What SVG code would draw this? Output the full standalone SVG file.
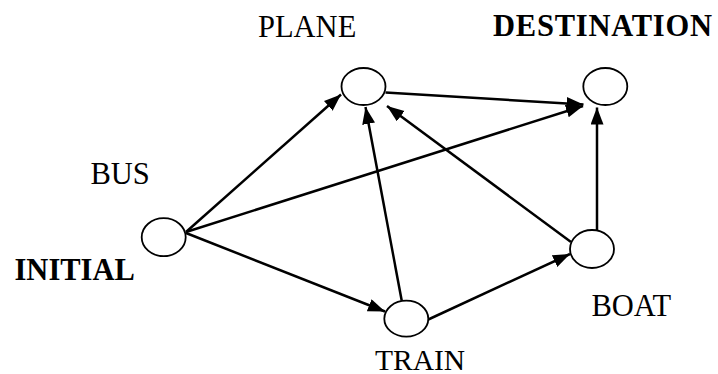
<svg xmlns="http://www.w3.org/2000/svg" width="718" height="374" viewBox="0 0 718 374">
<style>
.node{fill:#fff;stroke:#000;stroke-width:1.8}
.lbl{font-family:"Liberation Serif","Times New Roman",serif;font-size:30.5px;fill:#000}
.b{font-weight:bold}
.edge{stroke:#000;stroke-width:2.5;fill:none;marker-end:url(#ah)}
</style>
<defs>
<marker id="ah" markerUnits="userSpaceOnUse" markerWidth="18" markerHeight="14" refX="17" refY="6.5" orient="auto">
<path d="M0,0 L17,6.5 L0,13 Z" fill="#000"/>
</marker>
</defs>
<rect width="718" height="374" fill="#fff"/>
<g id="connectors">
<line class="edge" x1="186" y1="232" x2="341" y2="94.5"/>
<line class="edge" x1="186" y1="232" x2="583" y2="106"/>
<line class="edge" x1="186" y1="233" x2="385" y2="311.5"/>
<line class="edge" x1="401.7" y1="300.5" x2="365.5" y2="107"/>
<line class="edge" x1="428.3" y1="319.5" x2="570" y2="254"/>
<line class="edge" x1="571" y1="242" x2="387" y2="106"/>
<line class="edge" x1="597" y1="230" x2="597" y2="107.5"/>
<line class="edge" x1="385.5" y1="92.5" x2="583.5" y2="104.5"/>
</g>
<g id="initial">
<ellipse class="node" cx="163.7" cy="237.2" rx="22" ry="19"/>
<text class="lbl b" x="14.5" y="280">INITIAL</text>
</g>
<g id="bus">
<text class="lbl" x="90.5" y="184">BUS</text>
</g>
<g id="plane">
<ellipse class="node" cx="363.5" cy="86.5" rx="22" ry="18.5"/>
<text class="lbl" x="258" y="36.5">PLANE</text>
</g>
<g id="destination">
<ellipse class="node" cx="605.3" cy="86.5" rx="22" ry="18.5"/>
<text class="lbl b" x="493" y="36" textLength="219" lengthAdjust="spacing">DESTINATION</text>
</g>
<g id="train">
<ellipse class="node" cx="406.3" cy="318.7" rx="22" ry="18"/>
<text class="lbl" x="375" y="369.5" style="font-size:29.5px">TRAIN</text>
</g>
<g id="boat">
<ellipse class="node" cx="592" cy="249" rx="22" ry="19"/>
<text class="lbl" x="591.5" y="315.5">BOAT</text>
</g>
</svg>
